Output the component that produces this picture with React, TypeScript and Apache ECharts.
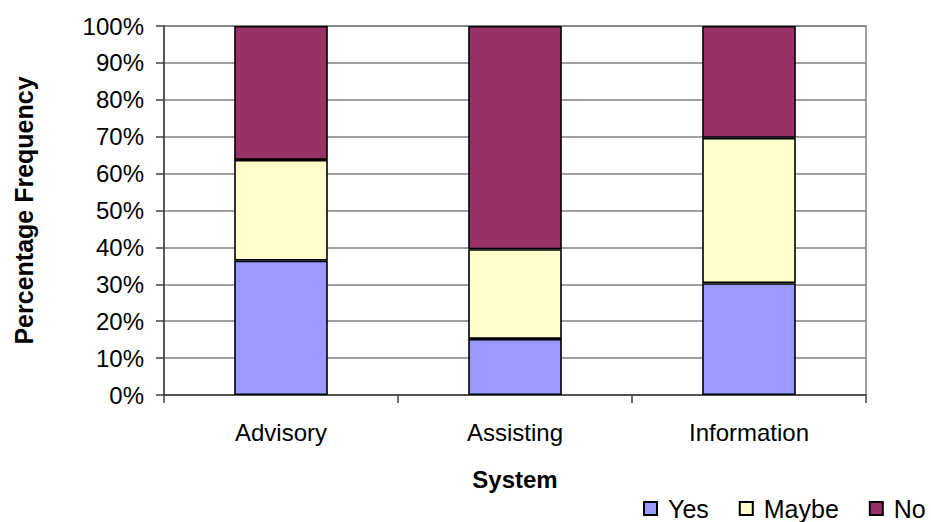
import React, { useEffect, useRef } from "react";
import * as echarts from "echarts";

const categories = ["Advisory", "Assisting", "Information"];
const yesValues = [36.4, 15.2, 30.3];
const maybeValues = [27.3, 24.3, 39.4];
const noValues = [36.3, 60.5, 30.3];
const seriesNames = ["Yes", "Maybe", "No"];
const seriesColors = ["#9999FF", "#FFFFCC", "#993366"];

const FONT = "'Liberation Sans', Arial, sans-serif";

export default function App() {
  const ref = useRef<HTMLDivElement>(null);

  useEffect(() => {
    if (!ref.current) return;
    const chart = echarts.init(ref.current, null, { renderer: "svg" });
    const values = [yesValues, maybeValues, noValues];

    chart.setOption({
      animation: false,
      backgroundColor: "#ffffff",
      textStyle: { fontFamily: FONT, color: "#000" },
      grid: {
        left: 164,
        right: 65,
        top: 26,
        bottom: 127,
        show: true,
        borderColor: "#808080",
        borderWidth: 1.5,
        containLabel: false,
      },
      legend: {
        left: 643,
        top: 496,
        icon: "rect",
        itemWidth: 13,
        itemHeight: 13,
        itemGap: 30,
        padding: 0,
        data: seriesNames,
        textStyle: {
          fontFamily: FONT,
          fontSize: 25,
          color: "#000",
          padding: [0, 0, 0, 6],
        },
      },
      xAxis: {
        type: "category",
        data: categories,
        name: "System",
        nameLocation: "middle",
        nameGap: 72,
        nameTextStyle: {
          fontFamily: FONT,
          fontSize: 24,
          fontWeight: "bold",
          color: "#000",
        },
        axisLine: { show: true, lineStyle: { color: "#404040", width: 1.5 } },
        axisTick: {
          show: true,
          length: 8,
          alignWithLabel: false,
          lineStyle: { color: "#404040", width: 1.5 },
        },
        axisLabel: {
          fontFamily: FONT,
          fontSize: 24,
          color: "#000",
          margin: 25,
        },
        splitLine: { show: false },
      },
      yAxis: {
        type: "value",
        min: 0,
        max: 100,
        interval: 10,
        name: "Percentage Frequency",
        nameLocation: "middle",
        nameGap: 128,
        nameTextStyle: {
          fontFamily: FONT,
          fontSize: 25,
          fontWeight: "bold",
          color: "#000",
        },
        axisLine: { show: true, lineStyle: { color: "#404040", width: 1.5 } },
        axisTick: {
          show: true,
          length: 8,
          lineStyle: { color: "#404040", width: 1.5 },
        },
        axisLabel: {
          fontFamily: FONT,
          fontSize: 24,
          color: "#000",
          margin: 20,
          formatter: "{value}%",
        },
        splitLine: { show: true, lineStyle: { color: "#808080", width: 1.5 } },
      },
      series: seriesNames.map((name, i) => ({
        name,
        type: "bar",
        stack: "total",
        barWidth: "40%",
        data: values[i],
        itemStyle: {
          color: seriesColors[i],
          borderColor: "#000",
          borderWidth: 1.6,
        },
      })),
    });

    return () => chart.dispose();
  }, []);

  return (
    <div
      ref={ref}
      style={{ position: "fixed", left: 0, top: 0, width: 931, height: 522 }}
    />
  );
}
